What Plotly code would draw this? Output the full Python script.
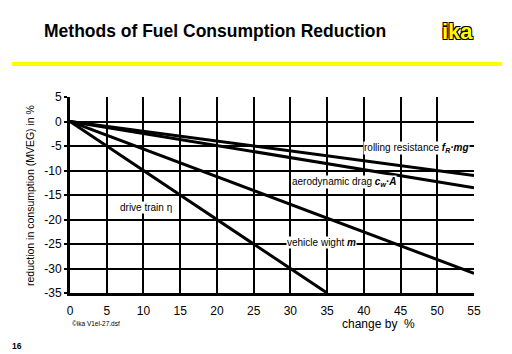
import plotly.graph_objects as go

# Data
x_drive = [0, 35]
y_drive = [0, -35]
x_weight = [0, 55]
y_weight = [0, -31]
x_aero = [0, 55]
y_aero = [0, -13.5]
x_roll = [0, 55]
y_roll = [0, -11]

x_ticks = [0, 5, 10, 15, 20, 25, 30, 35, 40, 45, 50, 55]
y_ticks = [5, 0, -5, -10, -15, -20, -25, -30, -35]
y_ticktext = ["5", "0", "-5", "-10", "-15", "-20", "-25", "-30", "-35"]

W, H = 512, 354
L, R, T, B = 70, 38, 97, 61
PW, PH = W - L - R, H - T - B

def px(x):
    return (x - L) / PW

def py(y):
    return (H - B - y) / PH

FONT = "Liberation Sans, Arial, sans-serif"

fig = go.Figure()
for xs, ys in [(x_drive, y_drive), (x_weight, y_weight), (x_aero, y_aero), (x_roll, y_roll)]:
    fig.add_trace(go.Scatter(x=xs, y=ys, mode="lines",
                             line=dict(color="black", width=3), showlegend=False,
                             hoverinfo="skip"))

labels = [
    (47.2, -5.4, "rolling resistance <b><i>f<sub>R</sub>·mg</i></b>"),
    (37.3, -12.4, "aerodynamic drag <b><i>c<sub>w</sub>·A</i></b>"),
    (10.3, -17.6, "drive train η"),
    (34.2, -24.6, "vehicle wight <b><i>m</i></b>"),
]
annotations = []
for lx, ly, txt in labels:
    annotations.append(dict(x=lx, y=ly, xref="x", yref="y", text=txt, showarrow=False,
                            bgcolor="white", borderpad=0,
                            font=dict(family=FONT, size=10, color="black")))

annotations += [
    dict(x=px(42), y=py(31), xref="paper", yref="paper", xanchor="left", yanchor="middle",
         text="<b>Methods of Fuel Consumption Reduction</b>", showarrow=False,
         font=dict(family=FONT, size=17.5, color="black")),
    dict(x=px(457), y=py(32), xref="paper", yref="paper", xanchor="center", yanchor="middle",
         text="<b>ika</b>", showarrow=False,
         font=dict(family=FONT, size=22, color="#ffff00",
                   shadow="1px 1px 0 black, -1px -1px 0 black, 1px -1px 0 black, -1px 1px 0 black")),
    dict(x=px(30), y=py(196), xref="paper", yref="paper", xanchor="center", yanchor="middle",
         text="reduction in consumption (MVEG) in %", showarrow=False, textangle=-90,
         font=dict(family=FONT, size=10.5, color="black")),
    dict(x=px(340), y=py(324), xref="paper", yref="paper", xanchor="left", yanchor="middle",
         text="change by  %", showarrow=False,
         font=dict(family=FONT, size=12, color="black")),
    dict(x=px(70), y=py(323), xref="paper", yref="paper", xanchor="left", yanchor="middle",
         text="©ika V1el-27.dsf", showarrow=False,
         font=dict(family=FONT, size=6.5, color="black")),
    dict(x=px(10), y=py(346), xref="paper", yref="paper", xanchor="left", yanchor="middle",
         text="<b>16</b>", showarrow=False,
         font=dict(family=FONT, size=8.5, color="black")),
]

fig.update_layout(
    width=W, height=H,
    margin=dict(l=L, r=R, t=T, b=B, pad=0),
    paper_bgcolor="white", plot_bgcolor="white",
    annotations=annotations,
    shapes=[dict(type="line", xref="paper", yref="paper",
                 x0=px(12), x1=px(502), y0=py(64), y1=py(64),
                 line=dict(color="#ffff00", width=4))],
    xaxis=dict(range=[0, 55], tickvals=x_ticks, showgrid=True, gridcolor="black", gridwidth=2,
               zeroline=False, showline=True, linecolor="black", linewidth=3,
               ticks="outside", ticklen=5, tickcolor="rgba(0,0,0,0)",
               tickfont=dict(family=FONT, size=12, color="black"),
               mirror=False, fixedrange=True),
    yaxis=dict(range=[-35, 5], tickvals=y_ticks, ticktext=y_ticktext, showgrid=True,
               gridcolor="black", gridwidth=2, zeroline=False, showline=True,
               linecolor="black", linewidth=3, ticks="outside", ticklen=3,
               tickcolor="black", tickwidth=2,
               tickfont=dict(family=FONT, size=12, color="black"), fixedrange=True),
)

fig.write_html("out.html")
